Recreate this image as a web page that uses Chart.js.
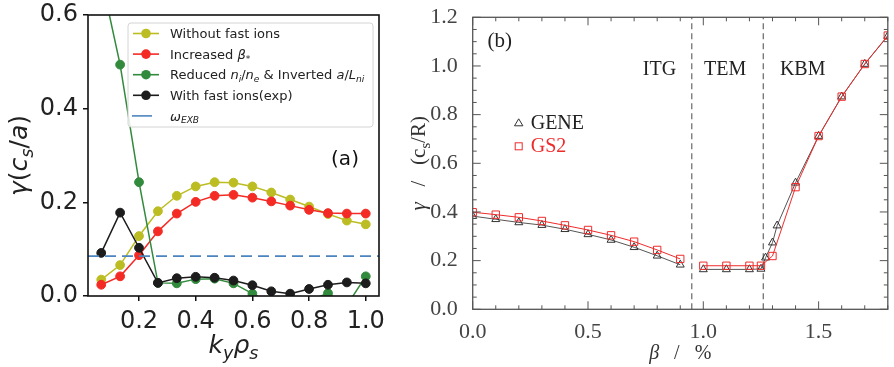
<!DOCTYPE html>
<html><head><meta charset="utf-8">
<script src="https://cdn.jsdelivr.net/npm/chart.js@4.4.0/dist/chart.umd.min.js"></script>
<style>
html,body{margin:0;padding:0;background:#fff;width:894px;height:367px;overflow:hidden}
#a{position:absolute;left:0;top:0;width:400px;height:367px}
#b{position:absolute;left:400px;top:0;width:494px;height:367px}
</style></head><body>
<canvas id="a" width="400" height="367"></canvas>
<canvas id="b" width="494" height="367"></canvas>
<script>
// ---------- panel (a) data ----------
const kyRho = [0.0667,0.1333,0.2,0.2667,0.3333,0.4,0.4667,0.5333,0.6,0.6667,0.7333,0.8,0.8667,0.9333,1.0];
const gammaNoFast  = [0.035,0.066,0.128,0.181,0.214,0.234,0.243,0.242,0.234,0.221,0.206,0.191,0.175,0.161,0.153];
const gammaBeta    = [0.024,0.042,0.087,0.138,0.176,0.201,0.214,0.216,0.210,0.202,0.193,0.184,0.177,0.176,0.176];
const gammaReduced = [0.68,0.494,0.243,0.028,0.027,0.036,0.037,0.027,0.005,-0.015,-0.02,-0.01,0.006,-0.02,0.042];
const gammaFast    = [0.092,0.178,0.103,0.028,0.038,0.041,0.039,0.033,0.023,0.010,0.005,0.015,0.024,0.029,0.027];
const omegaExB = 0.085;
const xRangeA = [0.02, 1.0467];
const yRangeA = [0, 0.6];
const xTicksA = [0.2,0.4,0.6,0.8,1.0];
const yTicksA = [0.0,0.2,0.4,0.6];

// ---------- panel (b) data ----------
const betaGene  = [0,0.1,0.2,0.3,0.4,0.5,0.6,0.7,0.8,0.9,1.0,1.1,1.2,1.25,1.27,1.3,1.32,1.4,1.5,1.6,1.7,1.8];
const gammaGene = [0.383,0.370,0.357,0.346,0.329,0.308,0.285,0.255,0.220,0.183,0.164,0.164,0.164,0.166,0.212,0.274,0.344,0.520,0.712,0.874,1.008,1.123];
const betaGs2   = [0,0.1,0.2,0.3,0.4,0.5,0.6,0.7,0.8,0.9,1.0,1.1,1.2,1.25,1.3,1.4,1.5,1.6,1.7,1.8];
const gammaGs2  = [0.399,0.389,0.378,0.363,0.345,0.326,0.304,0.278,0.244,0.207,0.179,0.179,0.179,0.179,0.219,0.502,0.712,0.874,1.008,1.125];
const regimeBounds = [0.95, 1.26];
const regimeNames  = ['ITG','TEM','KBM'];
const regimeNameX  = [0.81, 1.095, 1.431];
const regimeNameY  = 0.985;
const xRangeB = [0, 1.8];
const yRangeB = [0, 1.2];
const xTicksB = [0.0,0.5,1.0,1.5];
const yTicksB = [0.0,0.2,0.4,0.6,0.8,1.0,1.2];

// ---------- helpers ----------
const FA = "'DejaVu Sans', sans-serif";
const FB = "'Liberation Serif', serif";
function pts(xs, ys){ return xs.map((x,i)=>({x:x, y:ys[i]})); }
function ptsGap(xs, ys, cut){
  const out=[];
  xs.forEach((x,i)=>{ if(i>0 && xs[i-1]<cut && x>cut) out.push({x:cut,y:null}); out.push({x:x,y:ys[i]}); });
  return out;
}
function segFont(s,size,fam){ const sz = s.sub ? size*0.7 : size; return (s.it?'italic ':'')+sz.toFixed(1)+'px '+fam; }
function richWidth(ctx,segs,size,fam){ let w=0; for(const s of segs){ ctx.font=segFont(s,size,fam); w+=ctx.measureText(s.t).width; } return w; }
function drawRich(ctx,segs,x,y,size,fam,color){
  ctx.fillStyle=color; ctx.textAlign='left'; ctx.textBaseline='alphabetic';
  for(const s of segs){ ctx.font=segFont(s,size,fam); ctx.fillText(s.t, x, y + (s.sub? size*0.22:0)); x+=ctx.measureText(s.t).width; }
}
function drawRichCentered(ctx,segs,cx,y,size,fam,color){ const w=richWidth(ctx,segs,size,fam); drawRich(ctx,segs,cx-w/2,y,size,fam,color); }
function drawRichRot(ctx,segs,bx,cy,size,fam,color){
  ctx.save(); ctx.translate(bx,cy); ctx.rotate(-Math.PI/2);
  const w=richWidth(ctx,segs,size,fam); drawRich(ctx,segs,-w/2,0,size,fam,color); ctx.restore();
}
function fixTicks(vals){ return function(scale){ scale.ticks = vals.map(v=>({value:v})); }; }
function noPad(s){ s.paddingTop=0; s.paddingBottom=0; s.paddingLeft=0; s.paddingRight=0; }

// ---------- panel (a) ----------
const cYel='#bcbd22', cRed='#f42a24', cGrn='#328a3c', cBlk='#1c1c1c', cBlu='#4c84bf';
function lineDS(label, ys, col, order){
  return {label, data:pts(kyRho, ys), borderColor:col, backgroundColor:col, pointBackgroundColor:col,
    pointBorderColor:col, pointRadius:4.4, pointBorderWidth:1, borderWidth:1.5, order, tension:0};
}
const legendA = [
  {segs:[{t:'Without fast ions'}], col:cYel, marker:true},
  {segs:[{t:'Increased '},{t:'β',it:true},{t:'*',sub:true}], col:cRed, marker:true},
  {segs:[{t:'Reduced '},{t:'n',it:true},{t:'i',it:true,sub:true},{t:'/'},{t:'n',it:true},{t:'e',it:true,sub:true},{t:' & Inverted '},{t:'a',it:true},{t:'/'},{t:'L',it:true},{t:'ni',it:true,sub:true}], col:cGrn, marker:true},
  {segs:[{t:'With fast ions(exp)'}], col:cBlk, marker:true},
  {segs:[{t:'ω',it:true},{t:'EXB',it:true,sub:true}], col:cBlu, marker:false}
];
const decoA = {
  id:'decoA',
  afterDatasetsDraw(chart){
    const ctx=chart.ctx, a=chart.chartArea;
    ctx.save();
    const lx=a.left+40, ly=a.top+8, lw=245, lh=104;
    ctx.beginPath(); ctx.roundRect(lx,ly,lw,lh,3);
    ctx.fillStyle='rgba(255,255,255,0.85)'; ctx.fill();
    ctx.strokeStyle='#d4d4d4'; ctx.lineWidth=1; ctx.stroke();
    legendA.forEach((e,i)=>{
      const cy = ly + 10.5 + i*20.6;
      ctx.strokeStyle=e.col; ctx.lineWidth=1.6; ctx.beginPath();
      if(e.marker){ ctx.moveTo(lx+5,cy); ctx.lineTo(lx+31,cy); }
      else { ctx.moveTo(lx+4,cy); ctx.lineTo(lx+24,cy); }
      ctx.stroke();
      if(e.marker){ ctx.fillStyle=e.col; ctx.beginPath(); ctx.arc(lx+18,cy,4.8,0,Math.PI*2); ctx.fill(); }
      drawRich(ctx,e.segs,lx+42,cy+4.7,13,FA,'#222');
    });
    ctx.restore();
  },
  afterDraw(chart){
    const ctx=chart.ctx, a=chart.chartArea;
    ctx.save();
    ctx.strokeStyle='#111'; ctx.lineWidth=1.6; ctx.strokeRect(a.left,a.top,a.right-a.left,a.bottom-a.top);
    ctx.font='20px '+FA; ctx.fillStyle='#111'; ctx.textAlign='center'; ctx.textBaseline='middle';
    ctx.fillText('(a)', a.left+257, a.top+145);
    drawRichRot(ctx,[{t:'γ',it:true},{t:'('},{t:'c',it:true},{t:'s',it:true,sub:true},{t:'/'},{t:'a',it:true},{t:')'}], 27, (a.top+a.bottom)/2, 25, FA, '#222');
    drawRichCentered(ctx,[{t:'k',it:true},{t:'y',it:true,sub:true},{t:'ρ',it:true},{t:'s',it:true,sub:true}], (a.left+a.right)/2, 353, 25, FA, '#222');
    ctx.restore();
  }
};
new Chart(document.getElementById('a'), {
  type:'line',
  data:{datasets:[
    {label:'ωEXB', data:[{x:xRangeA[0],y:omegaExB},{x:xRangeA[1],y:omegaExB}], borderColor:cBlu, borderWidth:1.7, borderDash:[11,6], pointRadius:0, order:0},
    lineDS('With fast ions(exp)', gammaFast, cBlk, 1),
    lineDS('Reduced ni/ne & Inverted a/Lni', gammaReduced, cGrn, 2),
    lineDS('Increased β*', gammaBeta, cRed, 3),
    lineDS('Without fast ions', gammaNoFast, cYel, 4)
  ]},
  options:{
    responsive:false, animation:false, devicePixelRatio:1,
    layout:{padding:{top:15, right:21, left:0, bottom:0}},
    plugins:{legend:{display:false}, tooltip:{enabled:false}},
    scales:{
      x:{type:'linear', min:xRangeA[0], max:xRangeA[1], afterBuildTicks:fixTicks(xTicksA),
         afterFit(s){ s.height=71; noPad(s); },
         border:{display:false},
         grid:{drawOnChartArea:false, drawTicks:true, tickLength:5, color:'#111', lineWidth:1.5},
         ticks:{font:{family:FA,size:24}, color:'#222', padding:6, maxRotation:0, callback:v=>Number(v).toFixed(1)}},
      y:{type:'linear', min:yRangeA[0], max:yRangeA[1], afterBuildTicks:fixTicks(yTicksA),
         afterFit(s){ s.width = 88; noPad(s); },
         border:{display:false},
         grid:{drawOnChartArea:false, drawTicks:true, tickLength:5, color:'#111', lineWidth:1.5},
         ticks:{font:{family:FA,size:24}, color:'#222', padding:5, callback:v=>Number(v).toFixed(1)}}
    }
  },
  plugins:[decoA]
});

// ---------- panel (b) ----------
const cGray='#555', cGs2='#ee2b2b';
const decoB = {
  id:'decoB',
  beforeDatasetsDraw(chart){
    const ctx=chart.ctx, a=chart.chartArea, x=chart.scales.x;
    ctx.save(); ctx.strokeStyle='#666'; ctx.lineWidth=1.2; ctx.setLineDash([6,4]);
    regimeBounds.forEach(b=>{ const px=x.getPixelForValue(b); ctx.beginPath(); ctx.moveTo(px,a.bottom); ctx.lineTo(px,a.top); ctx.stroke(); });
    ctx.restore();
  },
  afterDraw(chart){
    const ctx=chart.ctx, a=chart.chartArea, x=chart.scales.x, y=chart.scales.y;
    ctx.save();
    ctx.strokeStyle=cGray; ctx.lineWidth=1.3;
    ctx.strokeRect(a.left,a.top,a.right-a.left,a.bottom-a.top);
    ctx.lineWidth=1; ctx.beginPath();
    for(let i=0;i<=18;i++){ const px=x.getPixelForValue(i/10), L=(i%5===0)?8:4;
      ctx.moveTo(px,a.bottom); ctx.lineTo(px,a.bottom-L); ctx.moveTo(px,a.top); ctx.lineTo(px,a.top+L); }
    for(let i=0;i<=24;i++){ const py=y.getPixelForValue(i/20), L=(i%4===0)?8:4;
      ctx.moveTo(a.left,py); ctx.lineTo(a.left+L,py); ctx.moveTo(a.right,py); ctx.lineTo(a.right-L,py); }
    ctx.stroke();
    ctx.fillStyle='#222'; ctx.textAlign='center'; ctx.textBaseline='middle'; ctx.font='20px '+FB;
    regimeNames.forEach((n,i)=>ctx.fillText(n, x.getPixelForValue(regimeNameX[i]), y.getPixelForValue(regimeNameY)));
    ctx.font='21px '+FB; ctx.fillText('(b)', a.left+27, a.top+24);
    // legend
    ctx.strokeStyle='#333'; ctx.lineWidth=1;
    ctx.beginPath(); ctx.moveTo(a.left+46,a.top+101.5); ctx.lineTo(a.left+50.2,a.top+108.5); ctx.lineTo(a.left+41.8,a.top+108.5); ctx.closePath(); ctx.stroke();
    ctx.strokeStyle=cGs2; ctx.strokeRect(a.left+42.5,a.top+125.5,7,7);
    ctx.textAlign='left'; ctx.font='20px '+FB;
    ctx.fillStyle='#222'; ctx.fillText('GENE', a.left+58, a.top+106);
    ctx.fillStyle=cGs2; ctx.fillText('GS2', a.left+58, a.top+129);
    // axis titles
    drawRichRot(ctx,[{t:'γ',it:true},{t:'   /   ('},{t:'c'},{t:'s',sub:true},{t:'/R)'}], 25, (a.top+a.bottom)/2, 21, FB, '#333');
    drawRichCentered(ctx,[{t:'β',it:true},{t:'   /   %'}], (a.left+a.right)/2, 359, 20, FB, '#333');
    ctx.restore();
  }
};
new Chart(document.getElementById('b'), {
  type:'line',
  data:{datasets:[
    {label:'GS2', data:ptsGap(betaGs2,gammaGs2,regimeBounds[0]), borderColor:cGs2, borderWidth:1, pointStyle:'rect',
     pointRadius:5.2, pointBorderColor:cGs2, pointBackgroundColor:'rgba(0,0,0,0)', pointBorderWidth:1, spanGaps:false, order:1},
    {label:'GENE', data:ptsGap(betaGene,gammaGene,regimeBounds[0]), borderColor:cGray, borderWidth:1, pointStyle:'triangle',
     pointRadius:4.6, pointBorderColor:'#333', pointBackgroundColor:'rgba(0,0,0,0)', pointBorderWidth:1, spanGaps:false, order:2}
  ]},
  options:{
    responsive:false, animation:false, devicePixelRatio:1,
    layout:{padding:{top:17.3, right:1.3, left:0, bottom:0}},
    plugins:{legend:{display:false}, tooltip:{enabled:false}},
    scales:{
      x:{type:'linear', min:xRangeB[0], max:xRangeB[1], afterBuildTicks:fixTicks(xTicksB),
         afterFit(s){ s.height = 57.7; noPad(s); },
         border:{display:false}, grid:{display:false},
         ticks:{font:{family:FB,size:22}, color:'#444', padding:2, maxRotation:0, callback:v=>Number(v).toFixed(1)}},
      y:{type:'linear', min:yRangeB[0], max:yRangeB[1], afterBuildTicks:fixTicks(yTicksB),
         afterFit(s){ s.width = 72.7; noPad(s); },
         border:{display:false}, grid:{display:false},
         ticks:{font:{family:FB,size:22}, color:'#444', padding:7, callback:v=>Number(v).toFixed(1)}}
    }
  },
  plugins:[decoB]
});
</script>
</body></html>
